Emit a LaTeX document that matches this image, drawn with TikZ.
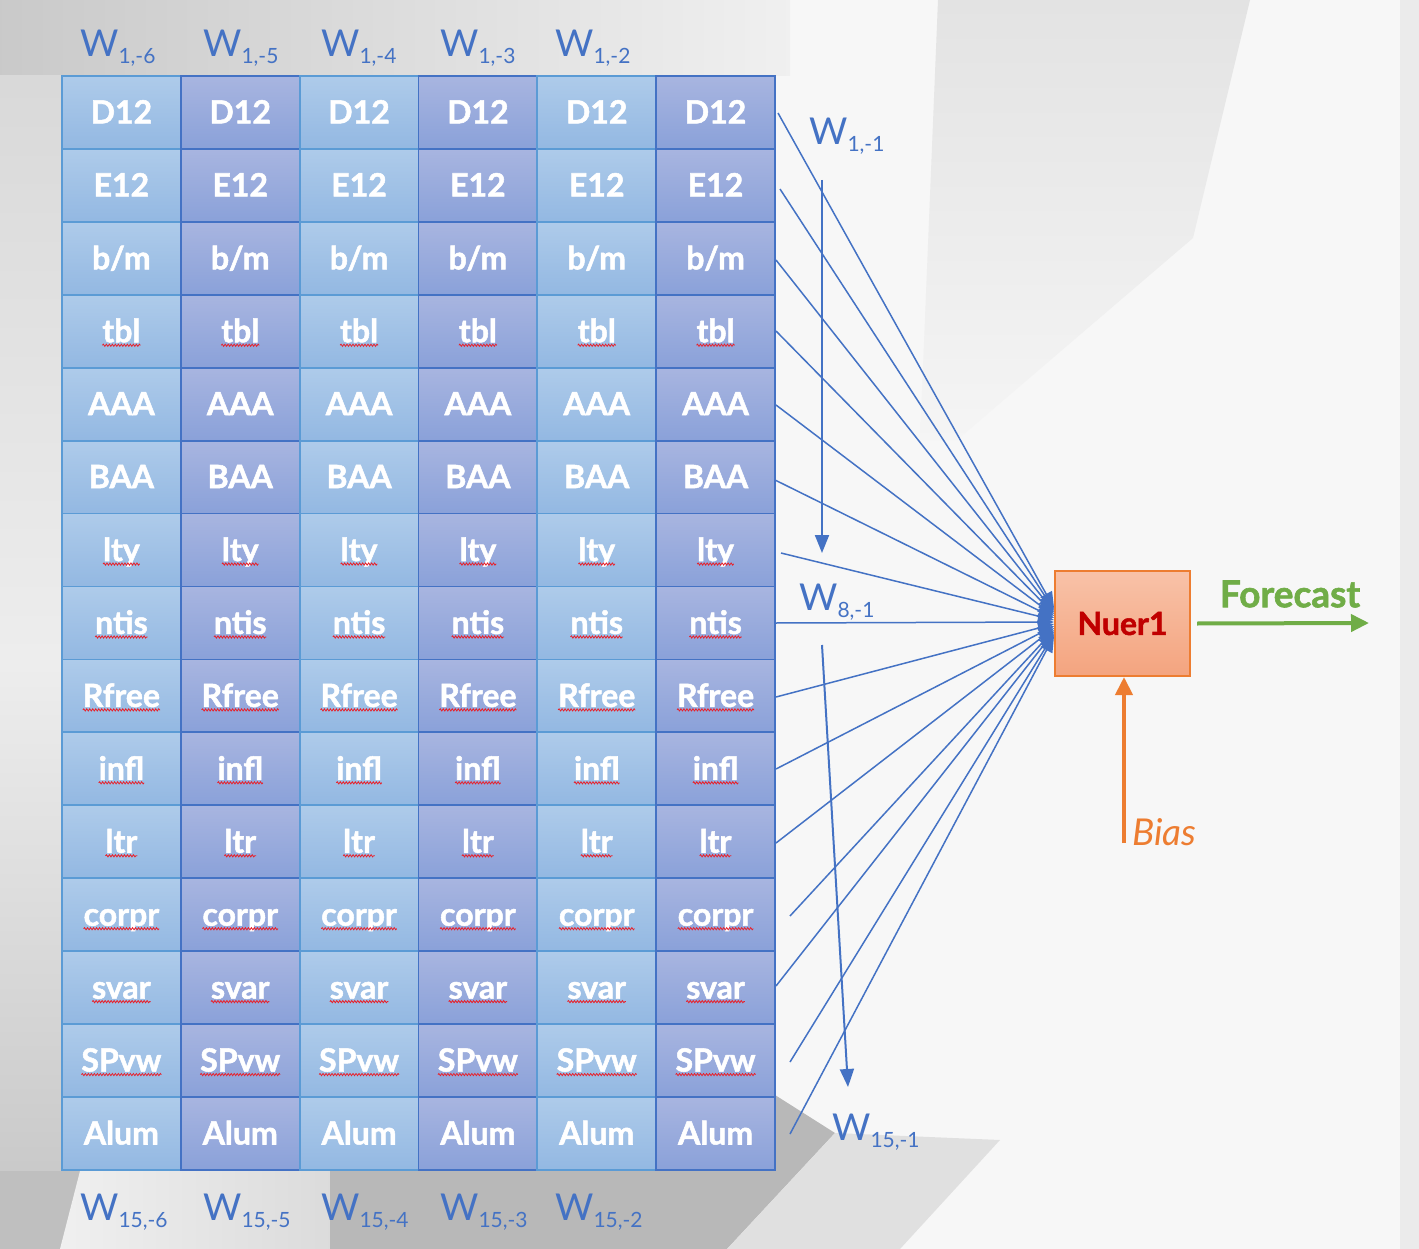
\documentclass[tikz,border=0pt]{standalone}
\usepackage{fontspec}
\setmainfont{Lato}
\newfontfamily\heavyfont{Lato}[BoldFeatures={FakeBold=1.6}]
\usetikzlibrary{arrows.meta,decorations.pathmorphing,calc}
\definecolor{ltop}{HTML}{AECBEA}
\definecolor{lbot}{HTML}{93B8E2}
\definecolor{lbord}{HTML}{5B9BD5}
\definecolor{dtop}{HTML}{A8B5E0}
\definecolor{dbot}{HTML}{8AA1D9}
\definecolor{dbord}{HTML}{4472C4}
\definecolor{wblue}{HTML}{4472C4}
\definecolor{fgreen}{HTML}{70AD47}
\definecolor{borange}{HTML}{ED7D31}
\definecolor{nred}{HTML}{C00000}
\definecolor{ntop}{HTML}{F8C2A8}
\definecolor{nbot}{HTML}{F4A47F}
\definecolor{squigred}{HTML}{E8202A}
\newcommand{\wlab}[1]{W\raisebox{-7pt}{\fontsize{21}{21}\selectfont #1}}
\begin{document}
\begin{tikzpicture}[x=1pt,y=-1pt,
  cell/.style={rectangle,minimum width=118.8pt,minimum height=73pt,line width=1.8pt,inner sep=0pt,outer sep=0pt},
  celltext/.style={font=\fontsize{32}{32}\selectfont\heavyfont\bfseries,text=white,inner sep=0pt,outer sep=0pt,anchor=base},
  squig/.style={draw=squigred,line width=0.8pt,decorate,decoration={snake,amplitude=1.1pt,segment length=3pt}},
  wlabel/.style={font=\fontsize{37}{37}\selectfont,text=wblue,inner sep=0pt,anchor=base west},
  conn/.style={draw=wblue,line width=1.5pt,-{Triangle[length=16pt,width=13pt]}},
  varrow/.style={draw=wblue,line width=2pt,-{Triangle[length=18pt,width=14pt]}},
  neuron/.style={rectangle,draw=borange,line width=2pt,top color=ntop,bottom color=nbot,minimum width=135pt,minimum height=105pt,font=\fontsize{32}{32}\selectfont\heavyfont\bfseries,text=nred},
  fcarrow/.style={draw=fgreen,line width=4pt,-{Triangle[length=18pt,width=17pt]}},
  biasarrow/.style={draw=borange,line width=4pt,-{Triangle[length=18pt,width=17pt]}}
]
\useasboundingbox (0,0) rectangle (1419,1249);
% background
\fill[black!3] (0,0) rectangle (1419,1249);
\shade[left color=black!21,right color=black!6] (0,0) -- (790,0) -- (790,76) -- (0,76) -- cycle;
\shade[top color=black!15,bottom color=black!23,middle color=black!7] (0,76) rectangle (62,1249);
\fill[black!25] (0,1171) rectangle (80,1249);
\shade[left color=black!6,right color=black!14] (80,1171) -- (330,1171) -- (330,1249) -- (60,1249) -- cycle;
\fill[black!28] (330,1171) -- (775,1171) -- (775,1095) -- (835,1133) -- (727,1249) -- (330,1249) -- cycle;
\fill[black!12] (835,1133) -- (1000,1140) -- (900,1249) -- (727,1249) -- cycle;
\shade[top color=black!11,bottom color=black!4] (938,0) -- (1250,0) -- (1193,238) -- (957,440) -- (920,440) -- cycle;
\fill[black!8] (1400,0) rectangle (1419,1249);
% grid
\foreach \lab [count=\r] in {D12,E12,b/m,tbl,AAA,BAA,lty,ntis,Rfree,infl,ltr,corpr,svar,SPvw,Alum} {
  \foreach \c in {1,...,6} {
    \pgfmathsetmacro\xc{62+(\c-0.5)*118.83}
    \pgfmathsetmacro\yc{76+(\r-0.5)*72.93}
    \ifodd\c \def\ct{ltop}\def\cb{lbot}\def\cd{lbord}\else\def\ct{dtop}\def\cb{dbot}\def\cd{dbord}\fi
    \node[cell,top color=\ct,bottom color=\cb,draw=\cd] (c-\r-\c) at (\xc,\yc) {};
    \node[celltext] (t-\r-\c) at (\xc,\yc+11) {\lab};
  }
}
\foreach \r in {4,7,8,9,10,11,12,13,14} {
  \foreach \c in {1,...,6} {
    \draw[squig] ([yshift=-3pt]t-\r-\c.base west) -- ([yshift=-3pt]t-\r-\c.base east);
  }
}
% weight labels
\node[wlabel] (wt6) at (80,57) {\wlab{1,-6}};
\node[wlabel] (wt5) at (203,57) {\wlab{1,-5}};
\node[wlabel] (wt4) at (321,57) {\wlab{1,-4}};
\node[wlabel] (wt3) at (440,57) {\wlab{1,-3}};
\node[wlabel] (wt2) at (555,57) {\wlab{1,-2}};
\node[wlabel] (wb6) at (80,1220) {\wlab{15,-6}};
\node[wlabel] (wb5) at (203,1220) {\wlab{15,-5}};
\node[wlabel] (wb4) at (321,1220) {\wlab{15,-4}};
\node[wlabel] (wb3) at (440,1220) {\wlab{15,-3}};
\node[wlabel] (wb2) at (555,1220) {\wlab{15,-2}};
\node[wlabel] (w11) at (809,145) {\wlab{1,-1}};
\node[wlabel] (w81) at (799,610) {\wlab{8,-1}};
\node[wlabel] (w151) at (832,1140) {\wlab{15,-1}};
% neuron
\node[neuron] (nuer) at (1122.5,623.5) {Nuer1};
\node[font=\fontsize{37}{37}\selectfont\heavyfont\bfseries,text=fgreen,inner sep=0pt] (fc) at (1290,594) {Forecast};
\node[font=\fontsize{37}{37}\selectfont\itshape,text=borange,inner sep=0pt,anchor=base west] (bias) at (1132,845) {Bias};
% connectors
\foreach \i/\x/\y in {1/778/113,2/780/189,3/776/260,4/776/331,5/776/405,6/775/480,7/781/553,8/776/623,9/776/697,10/776/769,11/776/843,12/790/916,13/776/986,14/790/1062,15/790/1134} {
  \coordinate (s\i) at (\x,\y);
  \pgfmathsetmacro\ey{608+(\i-1)*2}
  \coordinate (e\i) at (1054,\ey);
  \draw[conn] (s\i) -- (e\i);
}
\coordinate (v1a) at (822,180);
\coordinate (v1b) at (822,553);
\coordinate (v2a) at (822,645);
\coordinate (v2b) at (848,1087);
\draw[varrow] (v1a) -- (v1b);
\draw[varrow] (v2a) -- (v2b);
\coordinate (bs) at (1124,843);
\draw[biasarrow] (bs) -- (bs |- nuer.south);
\coordinate (fe) at (1369,623);
\draw[fcarrow] ([xshift=6pt]nuer.east) -- (fe);
\end{tikzpicture}
\end{document}
